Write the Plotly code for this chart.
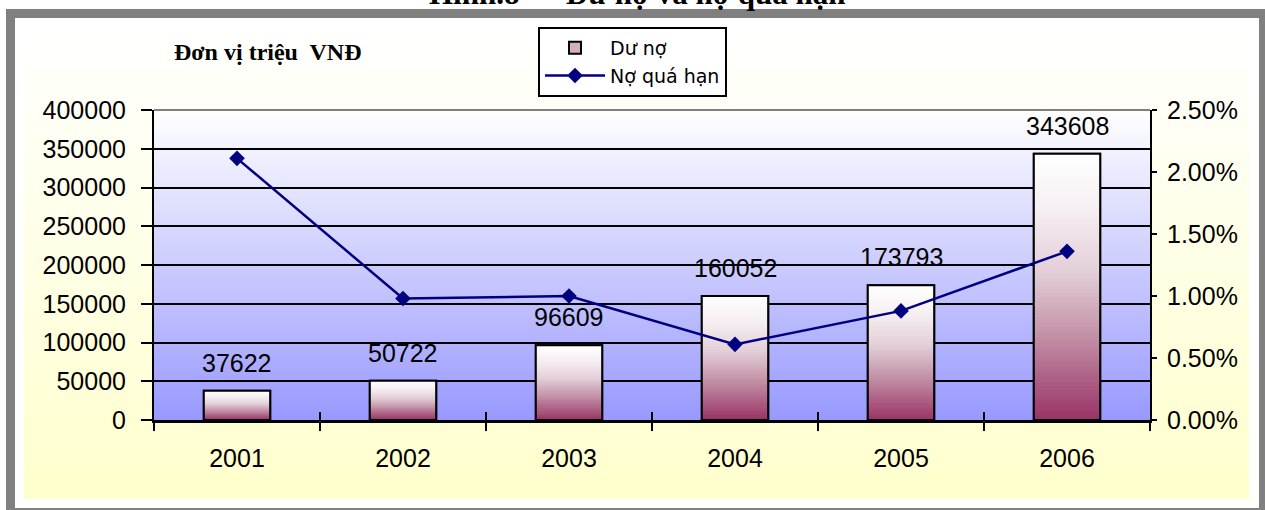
import base64
import struct
import zlib

import plotly.graph_objects as go

# ---- data -------------------------------------------------------------
years = ["2001", "2002", "2003", "2004", "2005", "2006"]
du_no = [37622, 50722, 96609, 160052, 173793, 343608]          # triệu VNĐ
no_qua_han = [0.0211, 0.0098, 0.0100, 0.0061, 0.0088, 0.0136]   # tỷ lệ

# ---- plot-area geometry (pixels) ---------------------------------------
FIG_W, FIG_H = 1265, 510
L, R, T, B = 154, 1150, 110, 420
PW, PH = R - L, B - T


def px_x(px):
    return (px - L) / PW


def px_y(py):
    return (B - py) / PH


def gradient_png(top_rgb, bottom_rgb, height=256, width=2):
    """Vertical linear gradient as a PNG data URI."""
    rows = []
    for r in range(height):
        t = r / (height - 1)
        rgb = bytes(round(a + (b - a) * t) for a, b in zip(top_rgb, bottom_rgb))
        rows.append(b"\x00" + rgb * width)
    raw = b"".join(rows)

    def chunk(tag, data):
        return (struct.pack(">I", len(data)) + tag + data
                + struct.pack(">I", zlib.crc32(tag + data) & 0xFFFFFFFF))

    png = (b"\x89PNG\r\n\x1a\n"
           + chunk(b"IHDR", struct.pack(">IIBBBBB", width, height, 8, 2, 0, 0, 0))
           + chunk(b"IDAT", zlib.compress(raw))
           + chunk(b"IEND", b""))
    return "data:image/png;base64," + base64.b64encode(png).decode()


FONT = "Liberation Sans, Arial, sans-serif"
SERIF = "Liberation Serif, Times New Roman, serif"
NAVY = "#000080"
BAR_W = 0.4
BAR_SCALE = [[0.0, "#993366"], [0.3, "#C08CA3"], [0.55, "#E2CED7"],
             [0.8, "#F6F0F3"], [1.0, "#FFFFFF"]]
N_STEPS = 80

idx = list(range(len(years)))
bounds = [i - 0.5 for i in idx] + [idx[-1] + 0.5]
x_range = [-0.5, len(years) - 0.5]

fig = go.Figure()

# bars: solid mid-tone (used by the legend swatch) with black outline
fig.add_trace(go.Bar(
    x=idx, y=du_no, width=BAR_W, name="Dư nợ",
    marker=dict(color="#D3AFC0", line=dict(color="black", width=2)),
    customdata=years, hovertemplate="%{customdata}: %{y}<extra></extra>",
))

# gradient face of each bar (white at the top, maroon at the base),
# drawn on an overlaid x axis so it sits on top of the solid bar
for i, v in zip(idx, du_no):
    fig.add_trace(go.Heatmap(
        x=[i - BAR_W / 2, i + BAR_W / 2],
        y=[v * k / N_STEPS for k in range(N_STEPS + 1)],
        z=[[(k + 0.5) / N_STEPS] for k in range(N_STEPS)],
        zmin=0, zmax=1, colorscale=BAR_SCALE, showscale=False,
        xaxis="x3", yaxis="y", hoverinfo="skip", showlegend=False,
    ))

# outline again on top of the gradient face
fig.add_trace(go.Bar(
    x=idx, y=du_no, width=BAR_W, xaxis="x3", yaxis="y",
    marker=dict(color="rgba(0,0,0,0)", line=dict(color="black", width=2)),
    hoverinfo="skip", showlegend=False,
))

# overdue ratio line on the secondary axis (topmost overlay)
fig.add_trace(go.Scatter(
    x=idx, y=no_qua_han, name="Nợ quá hạn", xaxis="x3", yaxis="y2",
    mode="lines+markers", line=dict(color=NAVY, width=2.5),
    marker=dict(symbol="diamond", size=12, color=NAVY),
    customdata=years, hovertemplate="%{customdata}: %{y:.2%}<extra></extra>",
))

# value labels above the bars
annotations = [
    dict(x=i, y=v, xref="x", yref="y", text=str(v), showarrow=False,
         yanchor="bottom", yshift=12, font=dict(family=FONT, size=25, color="black"))
    for i, v in zip(idx, du_no)
]
annotations += [
    dict(x=px_x(172), y=px_y(52), xref="paper", yref="paper", xanchor="left",
         yanchor="middle", showarrow=False, text="<b>Đơn vị triệu  VNĐ</b>",
         font=dict(family=SERIF, size=24, color="black")),
    dict(x=px_x(637), y=px_y(-6), xref="paper", yref="paper", xanchor="center",
         yanchor="middle", showarrow=False,
         text="<b>Hình.8 — Dư nợ và nợ quá hạn</b>",
         font=dict(family=SERIF, size=31, color="black")),
]

images = [
    # chart-area wash: white to pale yellow
    dict(source=gradient_png((255, 255, 255), (255, 255, 204)),
         xref="paper", yref="paper", x=px_x(24), y=px_y(26),
         sizex=(1249 - 24) / PW, sizey=(499 - 26) / PH,
         sizing="stretch", xanchor="left", yanchor="top", layer="below"),
    # plot-area wash: white to periwinkle
    dict(source=gradient_png((255, 255, 255), (153, 153, 255)),
         xref="paper", yref="paper", x=0, y=1, sizex=1, sizey=1,
         sizing="stretch", xanchor="left", yanchor="top", layer="below"),
]

shapes = [
    # outer grey frame
    dict(type="rect", xref="paper", yref="paper",
         x0=px_x(10.5), x1=px_x(1263.5), y0=px_y(512.5), y1=px_y(13.5),
         line=dict(color="#808080", width=9), fillcolor="rgba(0,0,0,0)"),
    # grey top edge of the plot area
    dict(type="line", xref="paper", yref="paper", x0=0, x1=1, y0=1, y1=1,
         line=dict(color="#808080", width=2), layer="above"),
]

fig.update_layout(
    width=FIG_W, height=FIG_H,
    margin=dict(l=L, r=FIG_W - R, t=T, b=FIG_H - B, pad=0),
    paper_bgcolor="white", plot_bgcolor="rgba(0,0,0,0)",
    font=dict(family=FONT, size=25, color="black"),
    barmode="overlay", showlegend=True,
    legend=dict(x=px_x(538), y=px_y(27), xanchor="left", yanchor="top",
                bgcolor="white", bordercolor="black", borderwidth=2,
                font=dict(family="DejaVu Sans, sans-serif", size=19),
                tracegroupgap=0, itemwidth=60),
    xaxis=dict(type="linear", range=x_range,
               tickmode="array", tickvals=idx, ticktext=years, ticks="",
               ticklabelstandoff=14, showgrid=False, zeroline=False,
               showline=True, linecolor="black", linewidth=2.5,
               minor=dict(tickmode="array", tickvals=bounds, ticks="outside",
                          ticklen=8, tickwidth=2, tickcolor="black", showgrid=False),
               tickfont=dict(size=25), fixedrange=True),
    xaxis3=dict(type="linear", overlaying="x", anchor="y", range=x_range,
                tickmode="array", tickvals=bounds,
                ticks="inside", ticklen=8, tickwidth=2, tickcolor="black",
                showticklabels=False, showgrid=False, zeroline=False,
                showline=False, fixedrange=True),
    yaxis=dict(range=[0, 400000], tickmode="linear", tick0=0, dtick=50000,
               tickformat="d", ticks="outside", ticklen=11, tickwidth=2,
               tickcolor="black", ticklabelstandoff=10,
               showgrid=True, gridcolor="black", gridwidth=1.5, zeroline=False,
               showline=True, linecolor="black", linewidth=2,
               tickfont=dict(size=25), fixedrange=True),
    yaxis2=dict(overlaying="y", side="right", anchor="x", range=[0, 0.025],
                tickmode="linear", tick0=0, dtick=0.005, tickformat=".2%",
                ticks="outside", ticklen=5, tickwidth=2, tickcolor="black",
                ticklabelstandoff=5, showgrid=False, zeroline=False,
                showline=True, linecolor="black", linewidth=2,
                tickfont=dict(size=25), fixedrange=True),
    yaxis4=dict(overlaying="y", side="right", anchor="x", range=[0, 0.025],
                tickmode="linear", tick0=0, dtick=0.005, ticks="inside",
                ticklen=9, tickwidth=2, tickcolor="black", showticklabels=False,
                showgrid=False, zeroline=False, showline=False, fixedrange=True),
    annotations=annotations, images=images, shapes=shapes,
)

fig.write_html("out.html")
